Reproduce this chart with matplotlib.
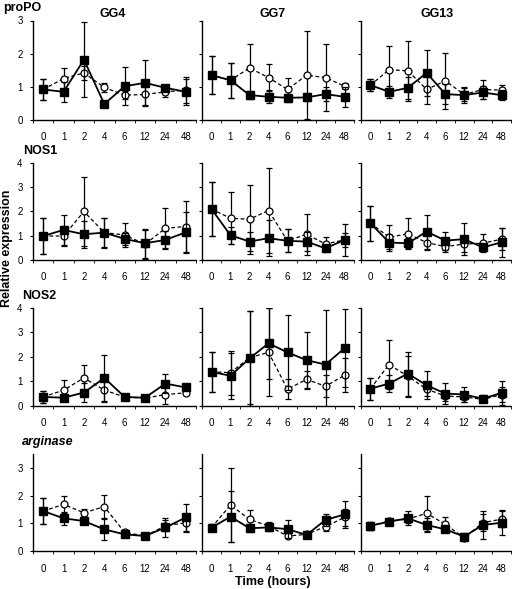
import numpy as np
import matplotlib
matplotlib.use('Agg')
import matplotlib.pyplot as plt

plt.rcParams['font.family'] = ['Liberation Sans', 'DejaVu Sans']

times = ['0', '1', '2', '4', '6', '12', '24', '48']
strains = ['GG4', 'GG7', 'GG13']
genes = ['proPO', 'NOS1', 'NOS2', 'arginase']

# filled squares (solid line), one list per strain
propo_sq = [[0.92, 0.85, 1.82, 0.48, 1.02, 1.12, 0.97, 0.85],
            [1.35, 1.20, 0.75, 0.70, 0.67, 0.68, 0.78, 0.70],
            [1.05, 0.85, 0.97, 1.42, 0.78, 0.75, 0.83, 0.75]]
propo_sq_err = [[0.31, 0.30, 1.12, 0.06, 0.57, 0.69, 0.08, 0.40],
                [0.58, 0.53, 0.12, 0.20, 0.12, 0.12, 0.22, 0.30],
                [0.18, 0.18, 0.33, 0.70, 0.30, 0.25, 0.20, 0.15]]
# open circles (dashed line)
propo_ci = [[0.92, 1.25, 1.42, 0.98, 0.75, 0.77, 0.85, 0.90],
            [1.35, 1.20, 1.57, 1.28, 0.92, 1.35, 1.28, 1.02],
            [1.05, 1.52, 1.48, 0.92, 1.18, 0.77, 0.92, 0.90]]
propo_ci_err = [[0.31, 0.32, 0.20, 0.14, 0.12, 0.33, 0.15, 0.40],
                [0.58, 0.53, 0.72, 0.42, 0.35, 1.33, 1.00, 0.10],
                [0.18, 0.71, 0.90, 0.45, 0.85, 0.20, 0.30, 0.15]]

nos1_sq = [[0.99, 1.24, 1.06, 1.13, 0.87, 0.69, 0.83, 1.14],
           [2.10, 1.02, 0.76, 0.90, 0.79, 0.76, 0.48, 0.83],
           [1.52, 0.72, 0.69, 1.17, 0.80, 0.86, 0.52, 0.73]]
nos1_sq_err = [[0.74, 0.62, 0.55, 0.62, 0.25, 0.60, 0.35, 0.84],
               [1.13, 0.35, 0.40, 0.73, 0.47, 0.40, 0.15, 0.66],
               [0.72, 0.35, 0.20, 0.70, 0.37, 0.66, 0.12, 0.60]]
nos1_ci = [[0.99, 0.99, 2.00, 1.13, 1.03, 0.65, 1.31, 1.38],
           [2.10, 1.72, 1.68, 2.04, 0.79, 1.06, 0.66, 0.83],
           [1.52, 0.94, 1.08, 0.72, 0.55, 0.66, 0.69, 0.86]]
nos1_ci_err = [[0.74, 0.40, 1.42, 0.60, 0.50, 0.60, 0.85, 1.07],
               [1.13, 1.08, 1.42, 1.75, 0.47, 0.84, 0.30, 0.30],
               [0.72, 0.50, 0.64, 0.30, 0.20, 0.35, 0.38, 0.45]]

nos2_sq = [[0.35, 0.32, 0.53, 1.13, 0.35, 0.32, 0.90, 0.74],
           [1.38, 1.22, 1.93, 2.55, 2.18, 1.86, 1.68, 2.35],
           [0.69, 0.90, 1.31, 0.83, 0.49, 0.45, 0.28, 0.52]]
nos2_sq_err = [[0.25, 0.10, 0.40, 0.95, 0.10, 0.10, 0.38, 0.10],
               [0.83, 0.95, 1.93, 1.45, 1.55, 1.17, 2.25, 1.60],
               [0.45, 0.35, 0.90, 0.58, 0.44, 0.30, 0.15, 0.50]]
nos2_ci = [[0.35, 0.63, 1.13, 0.63, 0.35, 0.30, 0.45, 0.52],
           [1.38, 1.35, 1.96, 2.18, 0.67, 1.07, 0.79, 1.24],
           [0.69, 1.68, 1.20, 0.67, 0.39, 0.35, 0.25, 0.45]]
nos2_ci_err = [[0.25, 0.41, 0.55, 0.50, 0.10, 0.10, 0.40, 0.10],
               [0.83, 0.90, 1.90, 1.80, 0.40, 0.35, 0.45, 0.70],
               [0.45, 1.00, 0.85, 0.30, 0.20, 0.20, 0.10, 0.30]]

arg_sq = [[1.44, 1.18, 1.08, 0.78, 0.60, 0.54, 0.85, 1.21],
          [0.84, 1.24, 0.82, 0.85, 0.79, 0.58, 1.12, 1.32],
          [0.91, 1.06, 1.18, 0.94, 0.78, 0.52, 0.94, 1.02]]
arg_sq_err = [[0.48, 0.24, 0.10, 0.37, 0.07, 0.07, 0.35, 0.50],
              [0.12, 0.93, 0.15, 0.13, 0.33, 0.12, 0.20, 0.48],
              [0.15, 0.10, 0.25, 0.25, 0.10, 0.12, 0.50, 0.45]]
arg_ci = [[1.44, 1.68, 1.38, 1.60, 0.67, 0.54, 0.91, 1.02],
          [0.84, 1.66, 1.14, 0.90, 0.54, 0.60, 0.88, 1.21],
          [0.91, 1.08, 1.15, 1.36, 0.96, 0.48, 1.02, 1.15]]
arg_ci_err = [[0.48, 0.30, 0.12, 0.42, 0.05, 0.07, 0.20, 0.32],
              [0.12, 1.35, 0.34, 0.15, 0.08, 0.10, 0.15, 0.30],
              [0.15, 0.10, 0.15, 0.63, 0.28, 0.10, 0.30, 0.30]]

rows = [(propo_sq, propo_sq_err, propo_ci, propo_ci_err),
        (nos1_sq, nos1_sq_err, nos1_ci, nos1_ci_err),
        (nos2_sq, nos2_sq_err, nos2_ci, nos2_ci_err),
        (arg_sq, arg_sq_err, arg_ci, arg_ci_err)]

W, H = 512, 589
fig = plt.figure(figsize=(W / 100, H / 100), dpi=100)

# panel positions in pixels
col_px = [(33, 196), (202, 354), (361, 511)]
row_px = [(20.5, 120), (163, 260), (308, 405.5), (454, 551)]
ytop = [3, 4, 4, 3.5]
label_x = [3, 23, 22, 22]
title_x = [113, 273, 437]

x = np.arange(len(times))

for r, (sq, sq_err, ci, ci_err) in enumerate(rows):
    y0, y1 = row_px[r]
    for c in range(3):
        x0, x1 = col_px[c]
        ax = fig.add_axes([x0 / W, 1 - y1 / H, (x1 - x0) / W, (y1 - y0) / H])
        # open circles, dashed
        ax.errorbar(x, ci[c], yerr=ci_err[c], fmt='none', ecolor='black',
                    elinewidth=0.9, capsize=2.3, capthick=0.9, zorder=2)
        ax.plot(x, ci[c], '--', color='black', lw=0.9, dashes=(3, 2),
                marker='o', ms=5, mfc='white', mec='black', mew=0.9, zorder=3)
        # filled squares, solid
        ax.errorbar(x, sq[c], yerr=sq_err[c], fmt='none', ecolor='black',
                    elinewidth=0.9, capsize=2.3, capthick=0.9, zorder=4)
        ax.plot(x, sq[c], '-', color='black', lw=1.3,
                marker='s', ms=5.5, mfc='black', mec='black', zorder=5)

        ax.set_xlim(-0.5, len(times) - 0.5)
        ax.set_ylim(0, ytop[r])
        ax.set_yticks(range(int(ytop[r]) + 1))
        ax.spines['top'].set_visible(False)
        ax.spines['right'].set_visible(False)
        ax.spines['left'].set_linewidth(1.0)
        ax.spines['bottom'].set_linewidth(1.0)
        ax.set_xticks(x)
        ax.set_xticklabels(times)
        ax.set_xticks(np.arange(-0.5, len(times)), minor=True)
        ax.tick_params(axis='x', which='major', length=0, pad=9, labelsize=7)
        ax.tick_params(axis='x', which='minor', length=2.5, direction='out')
        ax.tick_params(axis='y', length=2.5, direction='out', pad=5, labelsize=7)
        if c > 0:
            ax.set_yticklabels([])
        if r == 0:
            fig.text(title_x[c] / W, 1 - 14 / H, strains[c], fontsize=9,
                     fontweight='bold', ha='center', va='center')

    fig.text(label_x[r] / W, 1 - (y0 - 12) / H, genes[r], fontsize=9,
             fontweight='bold', style='italic' if genes[r] == 'arginase' else 'normal',
             ha='left', va='center')

fig.text(7 / W, 1 - 248 / H, 'Relative expression', rotation=90,
         fontsize=9, fontweight='bold', ha='center', va='center')
fig.text(273 / W, 1 - 582 / H, 'Time (hours)', fontsize=9,
         fontweight='bold', ha='center', va='center')

fig.savefig('out.png', dpi=100)
